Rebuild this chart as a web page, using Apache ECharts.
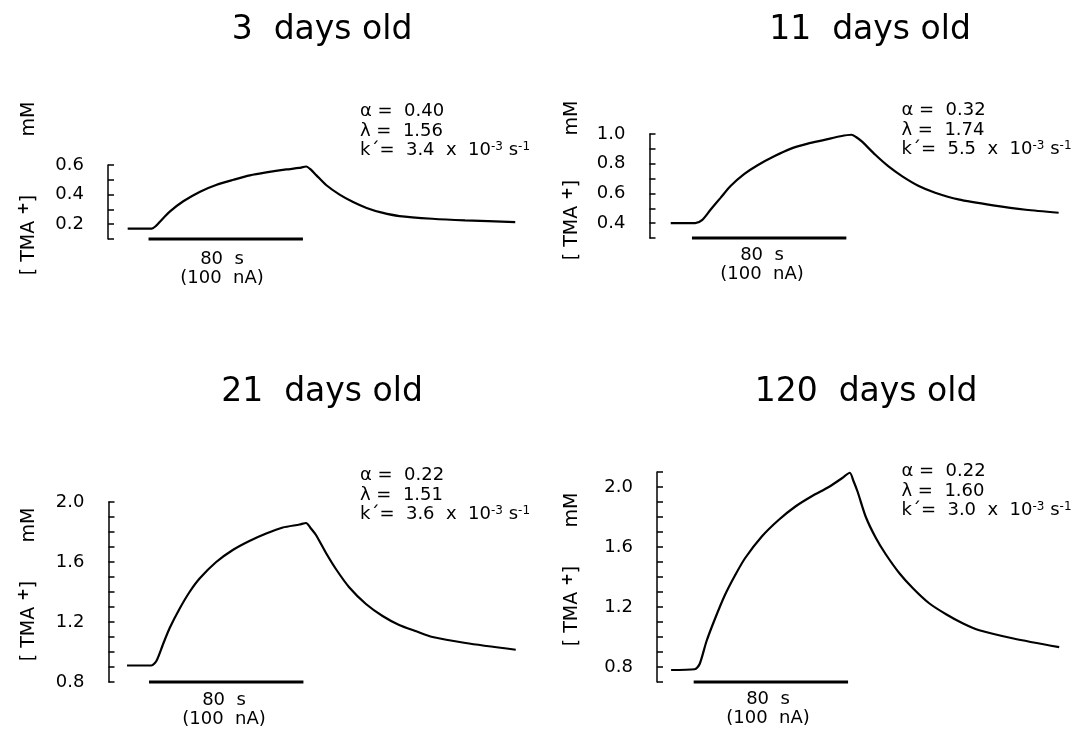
<!DOCTYPE html>
<html>
<head>
<meta charset="utf-8">
<script src="https://cdn.jsdelivr.net/npm/echarts@6/dist/echarts.min.js"></script>
<style>html,body{margin:0;padding:0;background:#fff}#c{width:1080px;height:729px}</style>
</head>
<body>
<div id="c"></div>
<script>
// ---- data (time in s relative to current onset, concentration in mM) ----
const titles = ['3  days old', '11  days old', '21  days old', '120  days old'];
const alphaVals = ['0.40', '0.32', '0.22', '0.22'];
const lambdaVals = ['1.56', '1.74', '1.51', '1.60'];
const kVals = ['3.4', '5.5', '3.6', '3.0'];
const stimTime = [0, 80];

const time1 = [-10.8, 1.7, 4, 6.5, 11, 18, 26.7, 35, 44, 52.5, 61, 71.4, 78, 81.7, 84, 87, 92, 99, 106, 113, 121, 130, 147, 164, 190];
const conc1 = [0.17, 0.17, 0.19, 0.225, 0.285, 0.355, 0.42, 0.465, 0.50, 0.53, 0.55, 0.57, 0.58, 0.59, 0.57, 0.53, 0.465, 0.40, 0.35, 0.31, 0.278, 0.255, 0.237, 0.226, 0.214];

const time2 = [-11, 1.7, 5.2, 9.6, 14.8, 20, 27, 34, 42.6, 51, 60, 68.7, 77, 82.6, 85, 88, 95, 102, 109, 117.5, 126, 138, 156, 173, 190];
const conc2 = [0.40, 0.40, 0.42, 0.49, 0.57, 0.65, 0.73, 0.79, 0.85, 0.90, 0.935, 0.96, 0.985, 0.995, 0.98, 0.95, 0.86, 0.78, 0.715, 0.65, 0.605, 0.56, 0.52, 0.49, 0.47];

const time3 = [-11.4, 1.2, 3.8, 7.2, 10.7, 15.9, 21, 26.2, 34.8, 43.4, 52, 60.7, 69.3, 78, 81.4, 83.5, 86.5, 91.7, 97, 103.8, 112.4, 121, 129.6, 138, 146.9, 164, 190];
const conc3 = [0.91, 0.91, 0.94, 1.05, 1.16, 1.29, 1.40, 1.49, 1.60, 1.68, 1.74, 1.79, 1.83, 1.85, 1.86, 1.83, 1.78, 1.66, 1.55, 1.43, 1.32, 1.24, 1.18, 1.14, 1.10, 1.06, 1.015];

const time4 = [-11.7, 0.5, 3.1, 6.6, 11, 16.2, 21.4, 26.6, 35.3, 44, 52.7, 61.4, 70, 77, 80.9, 82.8, 84.9, 89.2, 94.4, 99.6, 106.6, 113.6, 122, 131, 139.6, 148, 165.7, 189.4];
const conc4 = [0.78, 0.785, 0.82, 0.97, 1.12, 1.28, 1.41, 1.525, 1.67, 1.78, 1.87, 1.94, 2.00, 2.06, 2.095, 2.04, 1.97, 1.80, 1.66, 1.55, 1.425, 1.325, 1.225, 1.15, 1.09, 1.045, 0.99, 0.932];

const yMin = [0.1, 0.3, 0.8, 0.7];
const yMax = [0.6, 1.0, 2.0, 2.1];
const labelEvery = [2, 2, 4, 4]; // label every n tenths
const xMin = [-21, -22, -21, -19];
const xMax = 190;
const times = [time1, time2, time3, time4];
const concs = [conc1, conc2, conc3, conc4];

// ---- layout ----
const FONT = 'DejaVu Sans';
const PX_PER_S = 1.93;
const gridLT = [[108, 165, 74], [649.5, 134, 104], [108.5, 502, 180], [657, 472, 210]];
const grids = gridLT.map((g, i) => ({left: g[0], top: g[1], height: g[2], width: (xMax - xMin[i]) * PX_PER_S}));
const titlePos = [[322, 30], [870, 30], [322, 392], [866, 392]];
const annoPos = [[360, 102], [901.5, 101], [360, 466], [901.5, 462]];
const unitPos = [[29, 119], [572.5, 118], [29, 525], [572.5, 510]];
const bracketPos = [[29, 235], [572.5, 220], [29, 621], [572.5, 606]];
const stimTextPos = [[222, 269], [762, 265], [224, 710], [768, 709]];

const chart = echarts.init(document.getElementById('c'));
const option = {
  backgroundColor: '#fff',
  animation: false,
  grid: grids.map(g => Object.assign({containLabel: false}, g)),
  xAxis: grids.map((g, i) => ({
    gridIndex: i, type: 'value', min: xMin[i], max: xMax, show: false
  })),
  yAxis: grids.map((g, i) => ({
    gridIndex: i, type: 'value', min: yMin[i], max: yMax[i], interval: 0.1,
    axisLine: {show: true, onZero: false, lineStyle: {color: '#000', width: 1.5}},
    axisTick: {show: true, inside: true, length: 6, lineStyle: {color: '#000', width: 1.5}},
    splitLine: {show: false},
    axisLabel: {
      color: '#000', fontFamily: FONT, fontSize: 18, margin: 24,
      formatter: v => (Math.round(v * 10) % labelEvery[i] === 0) ? v.toFixed(1) : ''
    }
  })),
  series: [],
  graphic: []
};

for (let i = 0; i < 4; i++) {
  option.series.push({
    type: 'line', xAxisIndex: i, yAxisIndex: i, showSymbol: false, smooth: 0.25,
    data: times[i].map((t, j) => [t, concs[i][j]]),
    lineStyle: {color: '#000', width: 2.2}
  });
  option.series.push({
    type: 'line', xAxisIndex: i, yAxisIndex: i, showSymbol: false, clip: false,
    data: stimTime.map(t => [t, yMin[i]]),
    lineStyle: {color: '#000', width: 3}
  });
  option.graphic.push({
    type: 'text', x: titlePos[i][0], y: titlePos[i][1],
    style: {text: titles[i], font: '33px "' + FONT + '"', fill: '#000', align: 'center', verticalAlign: 'middle'}
  });
  option.graphic.push({
    type: 'text', x: annoPos[i][0], y: annoPos[i][1],
    style: {
      text: 'α =  ' + alphaVals[i] + '\nλ =  ' + lambdaVals[i] + '\nk´=  ' + kVals[i] + '  x  10{sup|-3} s{sup|-1}',
      font: '18px "' + FONT + '"', fill: '#000', align: 'left', verticalAlign: 'top', lineHeight: 19.5,
      rich: {sup: {fontSize: 12, fontFamily: FONT, verticalAlign: 'top', fill: '#000', lineHeight: 19.5}}
    }
  });
  option.graphic.push({
    type: 'text', x: unitPos[i][0], y: unitPos[i][1], rotation: Math.PI / 2,
    style: {text: 'mM', font: '19px "' + FONT + '"', fill: '#000', align: 'center', verticalAlign: 'middle'}
  });
  option.graphic.push({
    type: 'text', x: bracketPos[i][0], y: bracketPos[i][1], rotation: Math.PI / 2,
    style: {
      text: '[ TMA {sup|+}]',
      font: '19px "' + FONT + '"', fill: '#000', align: 'center', verticalAlign: 'middle', lineHeight: 24,
      rich: {sup: {fontSize: 15, fontFamily: FONT, fontWeight: 'bold', verticalAlign: 'top', fill: '#000', lineHeight: 24}}
    }
  });
  option.graphic.push({
    type: 'text', x: stimTextPos[i][0], y: stimTextPos[i][1],
    style: {text: '80  s\n(100  nA)', font: '18px "' + FONT + '"', fill: '#000', align: 'center', verticalAlign: 'middle', lineHeight: 19}
  });
}
chart.setOption(option);
</script>
</body>
</html>
